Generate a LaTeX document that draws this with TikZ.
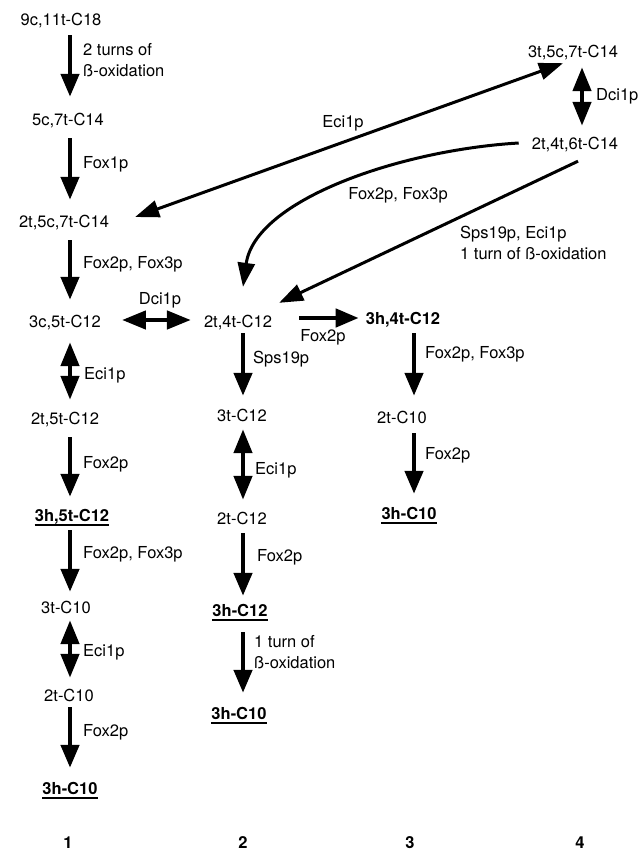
\documentclass[tikz,border=0pt]{standalone}
\usepackage{fontspec}
\setmainfont{TeX Gyre Heros}
\usetikzlibrary{arrows.meta}

\begin{document}
\begin{tikzpicture}[x=1pt,y=-1pt,
  every node/.style={font=\fontsize{16.5}{21.5}\selectfont},
  cpd/.style={inner sep=0pt,text height=12pt,text depth=4pt},
  bcpd/.style={cpd,font=\fontsize{16.5}{21.5}\selectfont\bfseries},
  prod/.style={bcpd,append after command={(\tikzlastnode.south west)
      edge[line width=1.6pt] (\tikzlastnode.south east)}},
  enz/.style={anchor=west,inner sep=0pt,align=left},
  rx/.style={line width=4.5pt,-{Triangle[length=23pt,width=18pt]},
      shorten <=6pt,shorten >=13pt},
  rxx/.style={line width=4.5pt,{Triangle[length=24pt,width=18pt]}-{Triangle[length=24pt,width=18pt]},
      shorten <=6pt,shorten >=12pt},
  lng/.style={line width=3pt,-{Triangle[length=24pt,width=17pt]}},
  lngx/.style={line width=3pt,{Triangle[length=24pt,width=17pt]}-{Triangle[length=24pt,width=17pt]}}
]
\useasboundingbox (0,0) rectangle (640,850);

\coordinate (c1) at (70,0);
\coordinate (c2) at (243,0);
\coordinate (c3) at (414,0);
\coordinate (c4) at (582,0);

% pathway 1
\node[cpd] (n1) at (61,22) {9c,11t-C18};
\node[cpd] (n2) at (68,122) {5c,7t-C14};
\node[cpd] (n3) at (64,224) {2t,5c,7t-C14};
\node[cpd] (n4) at (65,323) {3c,5t-C12};
\node[cpd] (n5) at (65,420) {2t,5t-C12};
\node[prod] (n6) at (72,517) {3h,5t-C12};
\node[cpd] (n7) at (66,609) {3t-C10};
\node[cpd] (n8) at (69,697) {2t-C10};
\node[prod] (n9) at (70,790) {3h-C10};

% pathway 2
\node[cpd] (m1) at (238,323) {2t,4t-C12};
\node[cpd] (m2) at (242,417) {3t-C12};
\node[cpd] (m3) at (242,520) {2t-C12};
\node[prod] (m4) at (240,612) {3h-C12};
\node[prod] (m5) at (239,715) {3h-C10};

% pathway 3
\node[bcpd] (k1) at (403,320) {3h,4t-C12};
\node[cpd] (k2) at (402,419) {2t-C10};
\node[prod] (k3) at (409,515) {3h-C10};

% pathway 4
\node[cpd] (j1) at (573,54) {3t,5c,7t-C14};
\node[cpd] (j2) at (575,146) {2t,4t,6t-C14};

\node[bcpd] (l1) at (68,844) {1};
\node[bcpd] (l2) at (243,844) {2};
\node[bcpd] (l3) at (410,844) {3};
\node[bcpd] (l4) at (580,844) {4};

\draw[rx,shorten <=5pt,shorten >=17pt] (n1.south -| c1) -- (n2.north -| c1);
\draw[rx,shorten <=8pt,shorten >=16pt] (n2.south -| c1) -- (n3.north -| c1);
\draw[rx,shorten <=8pt,shorten >=15pt] (n3.south -| c1) -- (n4.north -| c1);
\draw[rxx,shorten <=11pt] (n4.south -| c1) -- (n5.north -| c1);
\draw[rx,shorten <=9pt,shorten >=12pt] (n5.south -| c1) -- (n6.north -| c1);
\draw[rx,shorten <=5pt,shorten >=9pt] (n6.south -| c1) -- (n7.north -| c1);
\draw[rxx,shorten <=3pt,shorten >=11pt] (n7.south -| c1) -- (n8.north -| c1);
\draw[rx,shorten <=2pt,shorten >=14pt] (n8.south -| c1) -- (n9.north -| c1);

\draw[rx,shorten <=2pt] (m1.south -| c2) -- (m2.north -| c2);
\draw[rxx,shorten <=4pt] (m2.south -| c2) -- (m3.north -| c2);
\draw[rx,shorten <=5pt,shorten >=8pt] (m3.south -| c2) -- (m4.north -| c2);
\draw[rx,shorten <=12pt,shorten >=14pt] (m4.south -| c2) -- (m5.north -| c2);

\draw[rx,shorten <=5pt,shorten >=15pt] (k1.south -| c3) -- (k2.north -| c3);
\draw[rx] (k2.south -| c3) -- (k3.north -| c3);

\draw[rxx,shorten <=5pt] (j1.south -| c4) -- (j2.north -| c4);

\draw[rxx,shorten <=21pt,shorten >=13pt] ([shift={(0,-3)}]n4.east) -- ([shift={(0,-3)}]m1.west);
\draw[rx,shorten <=27pt,shorten >=7pt] ([shift={(0,-2)}]k1.west -| m1.east) -- ([shift={(0,-2)}]k1.west);

\draw[lngx] ([shift={(26,-7)}]n3.east) -- ([shift={(-10,1)}]j1.south);
\draw[lng] ([shift={(-13,-3)}]j2.west) .. controls (400,150) and (255,200) .. ([shift={(5,-28)}]m1.north);
\draw[lng] ([shift={(3,7)}]j2.south) -- ([shift={(7,-12)}]m1.north east);

% enzymes
\node[enz] at (83,60) {2 turns of\\ß-oxidation};
\node[enz] at (83,164) {Fox1p};
\node[enz] at (83,264) {Fox2p, Fox3p};
\node[enz] at (84,375) {Eci1p};
\node[enz] at (83,464) {Fox2p};
\node[enz] at (83,554) {Fox2p, Fox3p};
\node[enz] at (83,652) {Eci1p};
\node[enz] at (83,732) {Fox2p};
\node[enz] at (253,359) {Sps19p};
\node[enz] at (255,470) {Eci1p};
\node[enz] at (257,557) {Fox2p};
\node[enz] at (254,652) {1 turn of\\ß-oxidation};
\node[enz] at (425,354) {Fox2p, Fox3p};
\node[enz] at (425,455) {Fox2p};
\node[enz] at (596,96) {Dci1p};
\node at (160,300) {Dci1p};
\node at (323,337) {Fox2p};
\node at (343,123) {Eci1p};
\node at (398,195) {Fox2p, Fox3p};
\node[enz] at (460,243) {Sps19p, Eci1p\\1 turn of ß-oxidation};
\end{tikzpicture}
\end{document}
